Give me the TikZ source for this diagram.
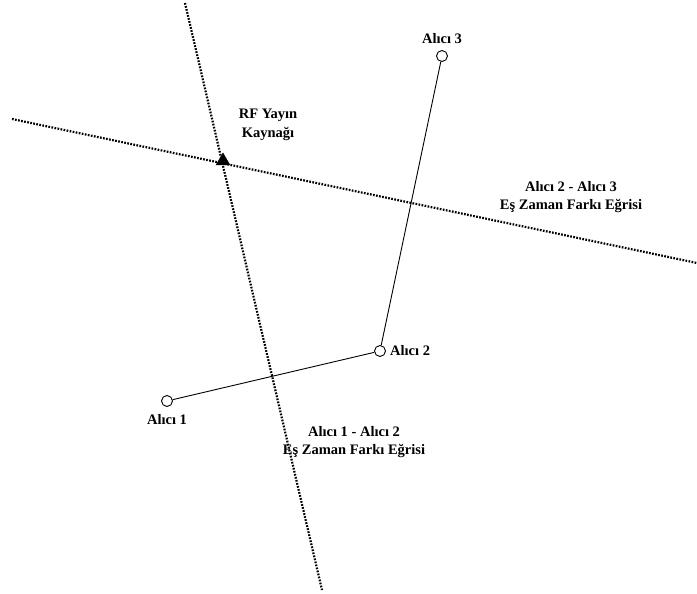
\documentclass[tikz,border=0pt]{standalone}
\usepackage{fontspec}
\setmainfont{Liberation Serif}
\usetikzlibrary{positioning,shapes.geometric}

\begin{document}
\begin{tikzpicture}[
  x=1pt,y=-1pt,
  rx/.style={draw,circle,fill=white,inner sep=0pt,minimum size=11pt,line width=0.9pt},
  lbl/.style={font=\fontsize{14.5}{18.5}\selectfont\bfseries,align=center,inner sep=1pt},
  tdoa/.style={line width=2.2pt,dash pattern=on 1.7pt off 1.4pt},
  link/.style={line width=0.9pt}
]
\useasboundingbox (0,0) rectangle (697,594);
% Curves
\coordinate (c1a) at (185,3);
\coordinate (c1b) at (322,590);
\coordinate (c2a) at (12,119);
\coordinate (c2b) at (697,263);
\draw[tdoa] (c1a) -- (c1b);
\draw[tdoa] (c2a) -- (c2b);
% Receivers
\node[rx] (r1) at (167,401) {};
\node[rx] (r2) at (380,351) {};
\node[rx] (r3) at (442,56) {};
\draw[link] (r1) -- (r2);
\draw[link] (r2) -- (r3);
% Source
\node[draw,fill=black,isosceles triangle,isosceles triangle apex angle=60,shape border rotate=90,inner sep=0pt,minimum size=12pt] (src) at (223,161) {};
% Labels
\node[lbl,above=5pt of r3] (l3) {Alıcı 3};
\node[lbl,right=3pt of r2] (l2) {Alıcı 2};
\node[lbl,below=6pt of r1] (l1) {Alıcı 1};
\node[lbl] (ls) at (268,125) {RF Yayın\\Kaynağı};
\node[lbl] (k23) at (571,197) {Alıcı 2 - Alıcı 3\\Eş Zaman Farkı Eğrisi};
\node[lbl] (k12) at (354,442) {Alıcı 1 - Alıcı 2\\Eş Zaman Farkı Eğrisi};
\end{tikzpicture}
\end{document}
